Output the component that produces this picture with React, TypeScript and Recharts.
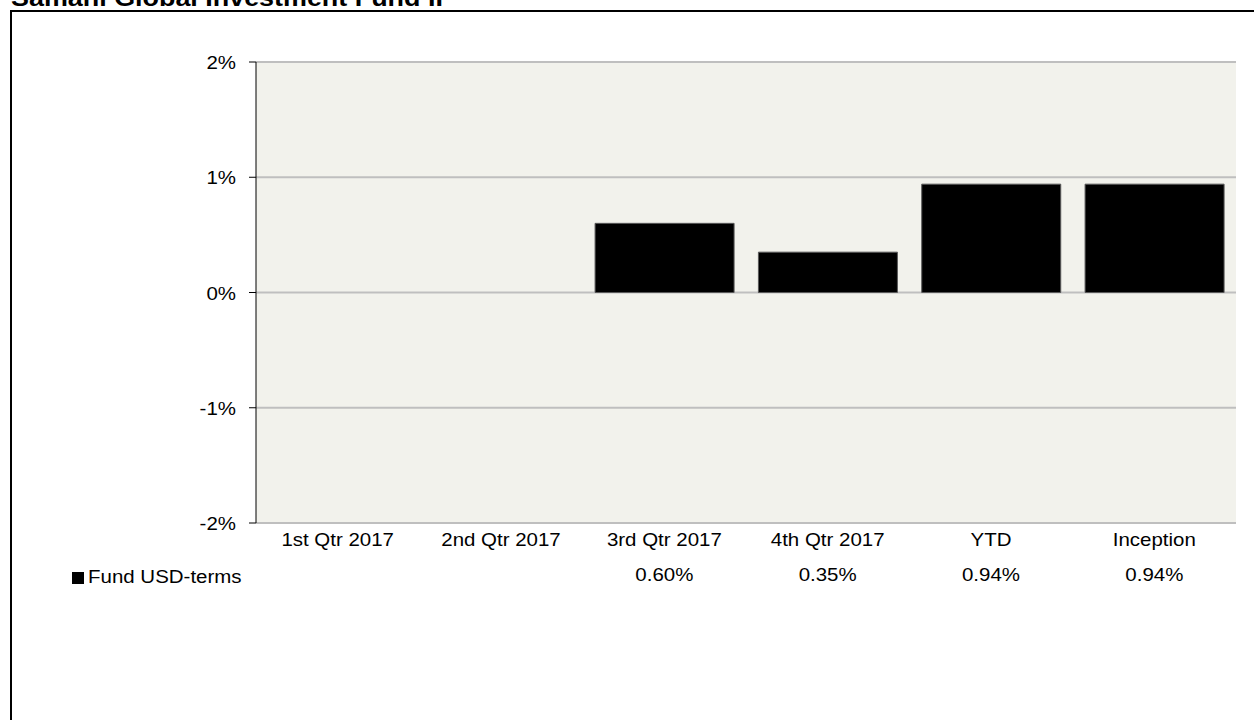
import React from 'react';
import { BarChart, Bar, XAxis, YAxis, CartesianGrid, Legend } from 'recharts';

const title = 'Samani Global Investment Fund II';
const seriesName = 'Fund USD-terms';
const categories = ['1st Qtr 2017', '2nd Qtr 2017', '3rd Qtr 2017', '4th Qtr 2017', 'YTD', 'Inception'];
const fundUsd: (number | null)[] = [null, null, 0.6, 0.35, 0.94, 0.94];
const yTicks = [-2, -1, 0, 1, 2];

const FONT = '"Liberation Sans", Arial, sans-serif';
const STRETCH = 1.17; // source text is drawn a bit wide

const data = categories.map((cat, i) => ({ cat, fund: fundUsd[i] }));

function StretchText({ x, y, dy, anchor, text, size = 17.5, weight = 'normal' }: any) {
  return (
    <text
      transform={`translate(${x},${y}) scale(${STRETCH},1)`}
      dy={dy}
      textAnchor={anchor}
      fontFamily={FONT}
      fontSize={size}
      fontWeight={weight}
      fill="#000"
    >
      {text}
    </text>
  );
}

const YTick = (props: any) => (
  <StretchText x={props.x} y={props.y} dy={7} anchor="end" text={`${props.payload.value}%`} />
);

const CatTick = (props: any) => (
  <StretchText x={props.x} y={props.y} dy={23.5} anchor="middle" text={props.payload.value} />
);

const ValueTick = (props: any) => {
  const idx = categories.indexOf(props.payload.value);
  const v = fundUsd[idx];
  if (v == null) return null;
  return <StretchText x={props.x} y={props.y} dy={28} anchor="middle" text={`${v.toFixed(2)}%`} />;
};

const LegendContent = (props: any) => {
  const item = (props.payload || [])[0];
  if (!item) return null;
  return (
    <div style={{ display: 'flex', alignItems: 'center', fontFamily: FONT, fontSize: 17.5, color: '#000' }}>
      <span style={{ display: 'inline-block', width: 12, height: 12, background: item.color, marginRight: 4 }} />
      <span style={{ display: 'inline-block', transform: `scaleX(${STRETCH})`, transformOrigin: 'left center', whiteSpace: 'nowrap' }}>
        {item.value}
      </span>
    </div>
  );
};

export default function App() {
  return (
    <div style={{ position: 'absolute', left: 0, top: 0, width: 1254, height: 720, overflow: 'hidden', background: '#fff' }}>
      <svg width={1254} height={720} style={{ position: 'absolute', left: 0, top: 0 }}>
        <path d="M11,720 V11 H1254" fill="none" stroke="#000" strokeWidth={2} />
        <StretchText x={11} y={6} dy={0} anchor="start" text={title} size={23} weight="bold" />
      </svg>
      <div style={{ position: 'absolute', left: 0, top: 0 }}>
        <BarChart
          width={1254}
          height={720}
          data={data}
          margin={{ top: 62, right: 18, left: 0, bottom: 127 }}
          barCategoryGap="7.6%"
        >
          <CartesianGrid vertical={false} stroke="#BFBFBF" strokeWidth={2} fill="#F2F2EC" />
          <XAxis
            xAxisId="cat"
            dataKey="cat"
            height={30}
            axisLine={false}
            tickLine={false}
            tickSize={0}
            tickMargin={0}
            interval={0}
            tick={<CatTick />}
          />
          <XAxis
            xAxisId="val"
            dataKey="cat"
            height={40}
            axisLine={false}
            tickLine={false}
            tickSize={0}
            tickMargin={0}
            interval={0}
            tick={<ValueTick />}
          />
          <YAxis
            width={256}
            domain={[-2, 2]}
            ticks={yTicks}
            interval={0}
            axisLine={{ stroke: '#000', strokeWidth: 1 }}
            tickLine={{ stroke: '#000', strokeWidth: 1 }}
            tickSize={7}
            tickMargin={13}
            tick={<YTick />}
          />
          <Legend
            layout="horizontal"
            verticalAlign="middle"
            align="center"
            content={<LegendContent />}
            wrapperStyle={{ position: 'absolute', left: 72, top: 567, width: 'auto' }}
          />
          <Bar
            xAxisId="cat"
            dataKey="fund"
            name={seriesName}
            fill="#000"
            stroke="#595959"
            strokeWidth={1}
            isAnimationActive={false}
          />
        </BarChart>
      </div>
    </div>
  );
}
